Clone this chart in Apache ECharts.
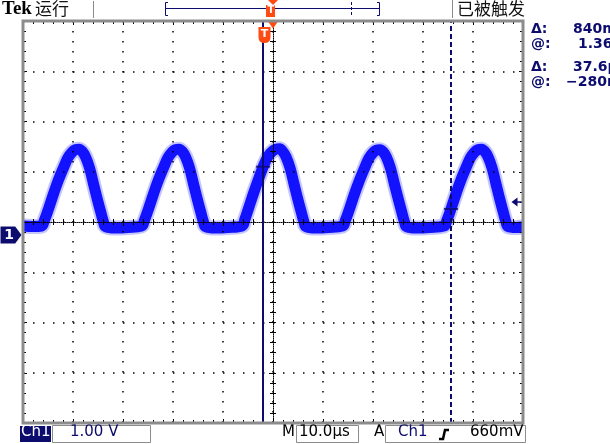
<!DOCTYPE html>
<html>
<head>
<meta charset="utf-8">
<script src="https://cdn.jsdelivr.net/npm/echarts@6/dist/echarts.min.js"></script>
<style>
  html, body { margin: 0; padding: 0; background: #fff; }
  #scope { width: 610px; height: 444px; }
</style>
</head>
<body>
<div id="scope"></div>
<script>
// trace: time in µs from the left edge, volts above ground (1.00 V/div, 10.0 µs/div)
const traceTime = [
  0.0, 2.0, 3.7, 4.3, 5.1, 6.1, 7.1, 8.1, 9.0, 9.8, 10.5, 11.2, 11.8, 12.5, 13.3, 14.1, 14.9, 15.6, 16.1, 16.5, 18.4, 21.0,
  23.7, 24.3, 25.1, 26.1, 27.1, 28.1, 29.0, 29.8, 30.5, 31.2, 31.8, 32.5, 33.3, 34.1, 34.9, 35.6, 36.1, 36.5, 38.4, 41.0,
  43.8, 44.4, 45.2, 46.2, 47.2, 48.2, 49.1, 49.9, 50.6, 51.3, 51.9, 52.6, 53.4, 54.2, 55.0, 55.7, 56.2, 56.6, 58.5, 61.1,
  63.9, 64.5, 65.3, 66.3, 67.3, 68.3, 69.2, 70.0, 70.7, 71.4, 72.0, 72.7, 73.5, 74.3, 75.1, 75.8, 76.3, 76.7, 78.6, 81.3,
  84.2, 84.8, 85.6, 86.6, 87.6, 88.6, 89.5, 90.3, 91.0, 91.7, 92.3, 93.0, 93.8, 94.6, 95.4, 96.1, 96.6, 97.0, 98.5, 100.0
];
const traceVolts = [
  0.18, 0.17, 0.18, 0.30, 0.52, 0.82, 1.10, 1.34, 1.54, 1.65, 1.70, 1.71, 1.67, 1.56, 1.34, 1.02, 0.70, 0.44, 0.26, 0.17, 0.14, 0.15,
  0.18, 0.30, 0.52, 0.82, 1.10, 1.34, 1.54, 1.65, 1.70, 1.71, 1.67, 1.56, 1.34, 1.02, 0.70, 0.44, 0.26, 0.17, 0.14, 0.15,
  0.18, 0.32, 0.56, 0.86, 1.14, 1.40, 1.58, 1.67, 1.71, 1.72, 1.67, 1.56, 1.34, 1.02, 0.70, 0.44, 0.26, 0.17, 0.14, 0.15,
  0.18, 0.30, 0.52, 0.82, 1.09, 1.33, 1.53, 1.64, 1.69, 1.70, 1.66, 1.55, 1.33, 1.01, 0.70, 0.44, 0.26, 0.17, 0.14, 0.15,
  0.18, 0.30, 0.52, 0.82, 1.10, 1.34, 1.54, 1.65, 1.70, 1.71, 1.67, 1.56, 1.34, 1.02, 0.70, 0.44, 0.26, 0.17, 0.15, 0.16
];

const cursorTimes = [48.0, 85.6];
const cursorVolts = [1.36, 0.52];
const triggerTime = 48.3;
const triggerLevel = 0.66;
const groundOffset = -0.26;   // ground sits a bit below screen centre

const readoutLabels = ['Δ:', '@:', 'Δ:', '@:'];
const readoutValues = ['840mV', '1.36V', '37.6µs', '−280ns'];

const timeMin = 0, timeMax = 100, timeDiv = 10;
const divMin = -4, divMax = 4, voltDiv = 1;

const navy = '#0c0c6e';
const frameGray = '#8c8c8c';
const orange = '#ff4a12';
const black = '#000';

const tracePoints = traceTime.map((t, i) => [t, traceVolts[i] + groundOffset]);
const cursorPoints = cursorTimes.map((t, i) => [t, cursorVolts[i] + groundOffset]);

function scopeAxis(range, position, offset, center, grid) {
  return {
    type: 'value', min: range[0], max: range[1], interval: range[2],
    position: position, offset: offset, z: 3,
    axisLabel: { show: false },
    axisLine: center
      ? { show: true, onZero: false, lineStyle: { color: black, width: 1, type: [1, 1] } }
      : { show: false, onZero: false },
    axisTick: { show: true, inside: true, length: center ? 3 : 4, lineStyle: { color: black } },
    minorTick: { show: true, splitNumber: 5, length: 3, lineStyle: { color: black } },
    splitLine: { show: !!grid, lineStyle: { color: black, width: 1.5, type: [1.5, 8.5] } },
    splitArea: { show: false }
  };
}

const xr = [timeMin, timeMax, timeDiv];
const yr = [divMin, divMax, voltDiv];

const txt = (text, x, y, font, fill) => ({
  type: 'text', x: x, y: y, silent: true,
  style: { text: text, font: font, fill: fill, align: 'left', verticalAlign: 'top' }
});
const ln = (x1, y1, x2, y2, stroke, w, dash) => ({
  type: 'line', silent: true, shape: { x1, y1, x2, y2 },
  style: { stroke: stroke, lineWidth: w || 1, lineDash: dash || null }
});
const box = (x, y, w, h, fill, stroke) => ({
  type: 'rect', silent: true, shape: { x, y, width: w, height: h },
  style: { fill: fill || null, stroke: stroke || null, lineWidth: 1 }
});

const bold14 = 'bold 14px "DejaVu Sans"';
const reg15 = '15px "DejaVu Sans"';

const chart = echarts.init(document.getElementById('scope'), null, { renderer: 'canvas' });

chart.setOption({
  backgroundColor: '#fff',
  animation: false,
  grid: {
    left: 23, top: 21, width: 500, height: 402,
    show: true, borderColor: frameGray, borderWidth: 3, backgroundColor: 'transparent', z: 6
  },
  xAxis: [
    scopeAxis(xr, 'bottom', 0, false, true),
    scopeAxis(xr, 'top', 0, false, false),
    scopeAxis(xr, 'bottom', -201, true, false),
    scopeAxis(xr, 'top', -201, false, false)
  ],
  yAxis: [
    scopeAxis(yr, 'left', 0, false, true),
    scopeAxis(yr, 'right', 0, false, false),
    scopeAxis(yr, 'left', -250, true, false),
    scopeAxis(yr, 'right', -250, false, false)
  ],
  series: [
    {
      type: 'line', data: tracePoints, showSymbol: false, smooth: 0.4, silent: true, z: 1,
      lineStyle: { color: '#7070ff', width: 15, opacity: 0.4, join: 'round' }
    },
    {
      type: 'line', data: tracePoints, showSymbol: false, smooth: 0.4, silent: true, z: 2,
      lineStyle: { color: '#1212ff', width: 11, join: 'round' }
    },
    {
      type: 'scatter', data: cursorPoints, symbol: 'rect', symbolSize: [14, 2], silent: true, z: 5,
      itemStyle: { color: navy },
      markLine: {
        silent: true, symbol: ['none', 'none'], label: { show: false },
        data: [
          { xAxis: cursorTimes[0], lineStyle: { color: navy, width: 2, type: 'solid' } },
          { xAxis: cursorTimes[1], lineStyle: { color: navy, width: 2, type: [5, 3] } },
          [
            { coord: [98.8, triggerLevel + groundOffset], lineStyle: { color: navy, width: 1.5, type: 'solid' } },
            { coord: [timeMax, triggerLevel + groundOffset] }
          ]
        ]
      },
      markPoint: {
        silent: true,
        data: [
          { coord: [timeMin, groundOffset], symbol: 'path://M0,0L14,0L20,8L14,16L0,16Z',
            symbolSize: [21, 17], symbolOffset: [-12, 0], itemStyle: { color: navy },
            label: { show: true, formatter: '1', color: '#fff', fontSize: 14, fontWeight: 'bold',
                     fontFamily: 'DejaVu Sans', offset: [-2, 0] } },
          { coord: [timeMax, triggerLevel + groundOffset], symbol: 'path://M0,4L6,0L6,8Z',
            symbolSize: [6, 9], symbolOffset: [-8.5, 0], itemStyle: { color: navy }, label: { show: false } },
          { coord: [(timeMin + timeMax) / 2, divMax], symbol: 'triangle', symbolRotate: 180,
            symbolSize: [10, 7], symbolOffset: [0, 4], itemStyle: { color: orange }, label: { show: false } },
          { coord: [triggerTime, divMax], symbol: 'path://M0,0H12V10Q12,16 6,16Q0,16 0,10Z',
            symbolSize: [12, 16], symbolOffset: [0, 14], itemStyle: { color: orange },
            label: { show: true, formatter: 'T', color: '#fff', fontSize: 11, fontWeight: 'bold',
                     fontFamily: 'DejaVu Sans', offset: [0, -1] } }
        ]
      }
    }
  ],
  graphic: {
    elements: [
      // top status line
      txt('Tek', 2, 0, 'bold 19px "Liberation Serif"', black),
      txt('运行', 35, 0, '17px "Noto Sans CJK SC"', '#111'),
      ln(93.5, 1, 93.5, 18, frameGray, 1),
      { type: 'polyline', silent: true, shape: { points: [[168, 2.5], [165.5, 2.5], [165.5, 15.5], [168, 15.5]] },
        style: { stroke: navy, fill: null, lineWidth: 1 } },
      ln(165.5, 8.5, 380, 8.5, navy, 1),
      { type: 'polyline', silent: true, shape: { points: [[377, 2.5], [379.5, 2.5], [379.5, 15.5], [377, 15.5]] },
        style: { stroke: navy, fill: null, lineWidth: 1 } },
      ln(351.5, 2, 351.5, 16, navy, 1, [3, 2]),
      { type: 'polygon', silent: true, shape: { points: [[268, 0], [278, 0], [273, 5]] }, style: { fill: orange } },
      box(266, 5, 9, 12, orange),
      txt('T', 267.5, 5.5, 'bold 10px "DejaVu Sans"', '#fff'),
      ln(452.5, 0, 452.5, 18, frameGray, 1),
      txt('已被触发', 457, 0, '17px "Noto Sans CJK SC"', '#111'),

      // cursor readouts on the right
      txt(readoutLabels[0], 531, 22, bold14, navy),
      txt(readoutValues[0], 573, 22, bold14, navy),
      txt(readoutLabels[1], 531, 37, bold14, navy),
      txt(readoutValues[1], 578, 37, bold14, navy),
      txt(readoutLabels[2], 531, 60, bold14, navy),
      txt(readoutValues[2], 573, 60, bold14, navy),
      txt(readoutLabels[3], 531, 75, bold14, navy),
      txt(readoutValues[3], 566, 75, bold14, navy),

      // bottom status line
      box(20, 426, 31, 16, navy),
      txt('Ch1', 21, 425, reg15, '#fff'),
      box(52.5, 425.5, 98, 17, null, frameGray),
      txt('1.00 V', 70, 425, reg15, navy),
      txt('M', 282, 425, reg15, black),
      box(296.5, 425.5, 62, 17, null, frameGray),
      txt('10.0µs', 299, 425, reg15, black),
      txt('A', 374, 425, reg15, black),
      box(385.5, 425.5, 140, 17, null, frameGray),
      txt('Ch1', 398, 425, reg15, navy),
      { type: 'polyline', silent: true, shape: { points: [[439, 439], [443, 439], [445, 430], [449, 430]] },
        style: { stroke: black, fill: null, lineWidth: 2.5 } },
      txt('660mV', 470, 425, reg15, black)
    ]
  }
});
</script>
</body>
</html>
